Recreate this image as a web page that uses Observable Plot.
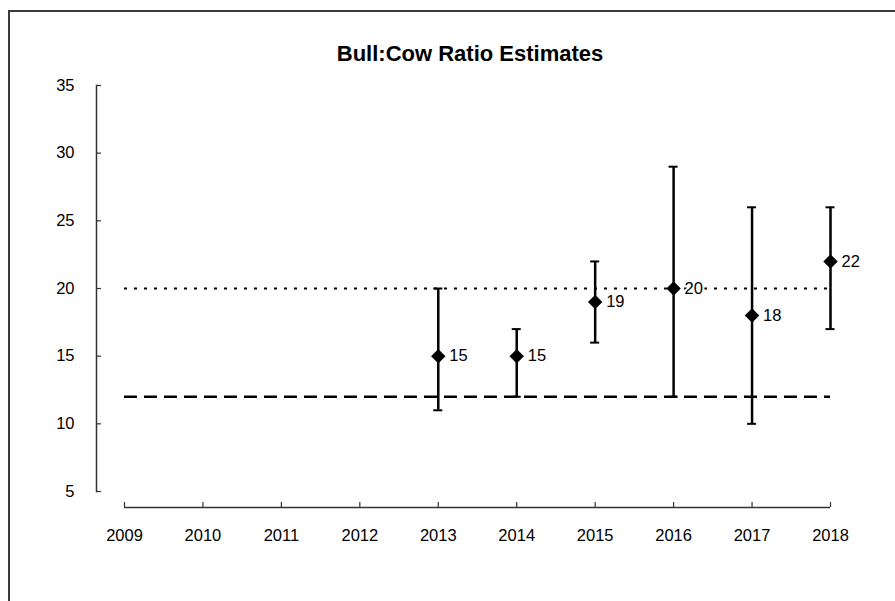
<!DOCTYPE html>
<html>
<head>
<meta charset="utf-8">
<script src="https://cdn.jsdelivr.net/npm/d3@7"></script>
<script src="https://cdn.jsdelivr.net/npm/@observablehq/plot@0.6"></script>
<style>
  html, body { margin: 0; padding: 0; background: #fff; }
  #wrap { position: relative; width: 895px; height: 601px; overflow: hidden; font-family: "Liberation Sans", Arial, sans-serif; }
  #border { position: absolute; left: 8px; top: 10px; right: -10px; bottom: -10px; border-left: 2px solid #3a3a3a; border-top: 2px solid #3a3a3a; }
  #title { position: absolute; left: 0; width: 940px; top: 41px; text-align: center; font-weight: bold; font-size: 22px; color: #000; }
  #chart { position: absolute; left: 0; top: 0; }
</style>
</head>
<body>
<div id="wrap">
  <div id="border"></div>
  <div id="title">Bull:Cow Ratio Estimates</div>
  <div id="chart"></div>
</div>
<script>
// Data
const years = [2009, 2010, 2011, 2012, 2013, 2014, 2015, 2016, 2017, 2018];
const estYears = [2013, 2014, 2015, 2016, 2017, 2018];
const estimates = [15, 15, 19, 20, 18, 22];
const lowerCI = [11, 12, 16, 12, 10, 17];
const upperCI = [20, 17, 22, 29, 26, 26];
const yTicks = [5, 10, 15, 20, 25, 30, 35];
const dottedRef = [20];
const dashedRef = [12];

const data = estYears.map((y, i) => ({year: y, est: estimates[i], lo: lowerCI[i], hi: upperCI[i]}));

const font = "Liberation Sans, Arial, sans-serif";
const yMin = d3.min(yTicks), yMax = d3.max(yTicks);
const xMin = d3.min(years), xMax = d3.max(years);

const chart = Plot.plot({
  width: 895,
  height: 601,
  marginTop: 85,
  marginBottom: 110,
  marginLeft: 96,
  marginRight: 65,
  style: {fontFamily: font, fontSize: "16px", color: "#000", background: "transparent"},
  x: {domain: [xMin, xMax], range: [124, 830], label: null},
  y: {domain: [yMin, yMax], label: null},
  marks: [
    // y axis line
    Plot.frame({anchor: "left", stroke: "#333", strokeWidth: 1.5}),
    Plot.axisY({ticks: yTicks, label: null, tickSize: -5, tickFormat: () => "", stroke: "#333", strokeWidth: 1.2}),
    Plot.axisY({ticks: yTicks, label: null, tickSize: 0, tickPadding: 22, fontSize: 16.5, fill: "#000", tickFormat: d => String(d)}),
    // x axis line (offset below plot)
    Plot.ruleY([yMin], {x1: xMin, x2: xMax, dy: 16, stroke: "#333", strokeWidth: 1.5}),
    Plot.axisX({ticks: years, label: null, tickSize: -5, dy: 16, tickFormat: () => "", stroke: "#333", strokeWidth: 1.2}),
    Plot.axisX({ticks: years, label: null, tickSize: 0, dy: 16, tickPadding: 22, fontSize: 16.5, fill: "#000", tickFormat: d => String(d)}),
    // reference lines
    Plot.ruleY(dottedRef, {x1: xMin, x2: xMax, stroke: "#000", strokeWidth: 2, strokeDasharray: "3,7"}),
    Plot.ruleY(dashedRef, {x1: xMin, x2: xMax, stroke: "#000", strokeWidth: 2.5, strokeDasharray: "13,7"}),
    // error bars
    Plot.ruleX(data, {x: "year", y1: "lo", y2: "hi", stroke: "#000", strokeWidth: 2.5}),
    Plot.ruleY(data, {y: "hi", x1: "year", x2: "year", insetLeft: -4.5, insetRight: -4.5, stroke: "#000", strokeWidth: 2}),
    Plot.ruleY(data, {y: "lo", x1: "year", x2: "year", insetLeft: -4.5, insetRight: -4.5, stroke: "#000", strokeWidth: 2}),
    // points
    Plot.dot(data, {x: "year", y: "est", symbol: "diamond2", r: 6.5, fill: "#000", stroke: "none"}),
    Plot.text(data, {x: "year", y: "est", text: d => String(d.est), dx: 11, textAnchor: "start", fontSize: 16.5, fill: "#000", stroke: "#fff", strokeWidth: 4, paintOrder: "stroke"})
  ]
});
document.getElementById("chart").appendChild(chart);
</script>
</body>
</html>
